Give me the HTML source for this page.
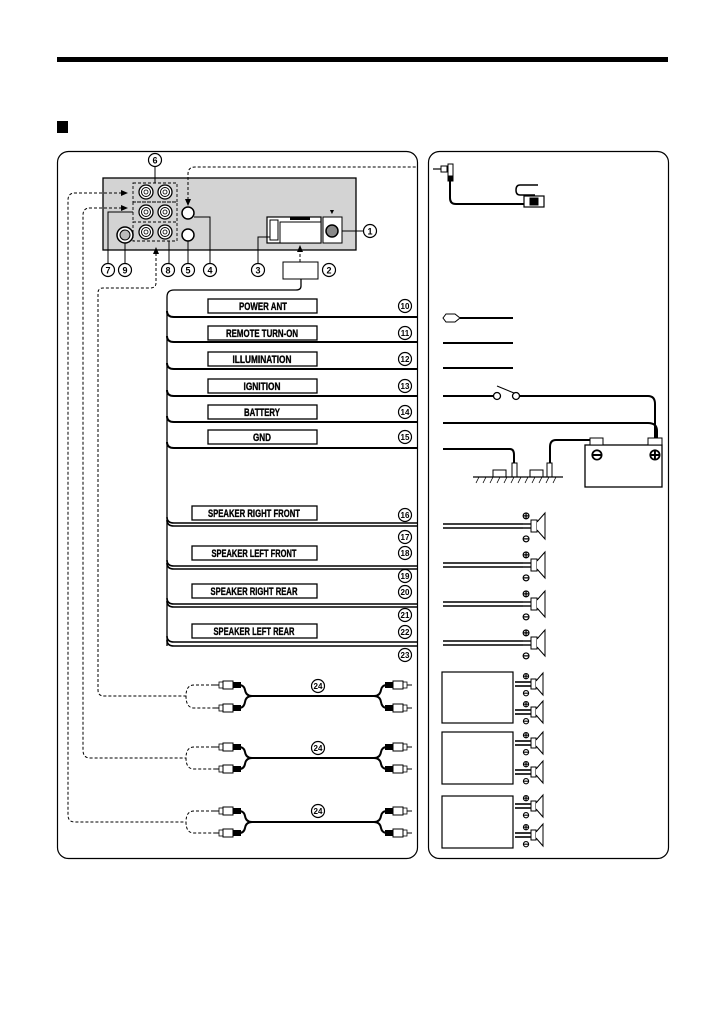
<!DOCTYPE html>
<html><head><meta charset="utf-8"><style>
html,body{margin:0;padding:0;background:#fff;}
svg{display:block;}
text{font-family:"Liberation Sans",sans-serif;font-weight:bold;}
.lbl{font-family:"Liberation Sans",sans-serif;font-weight:bold;stroke:#000;stroke-width:0.35;}
</style></head><body>
<svg width="726" height="1032" viewBox="0 0 726 1032" xmlns="http://www.w3.org/2000/svg">
<defs>
<g id="cn"><circle r="6.5" fill="#fff" stroke="#000" stroke-width="1.2"/></g>
<g id="rca"><circle r="7" fill="#fff" stroke="#000" stroke-width="1.3"/><circle r="4.5" fill="none" stroke="#000" stroke-width="1"/><circle r="2" fill="none" stroke="#000" stroke-width="0.8"/></g>
<g id="plugL"><rect x="0" y="-3" width="4" height="6" fill="#fff" stroke="#000" stroke-width="0.8"/><rect x="4" y="-4" width="10" height="8" fill="#fff" stroke="#000" stroke-width="1"/><rect x="14" y="-3" width="8" height="6" fill="#000"/><line x1="-5" y1="0" x2="0" y2="0" stroke="#000" stroke-width="1"/></g>
<g id="plugR"><rect x="-4" y="-3" width="4" height="6" fill="#fff" stroke="#000" stroke-width="0.8"/><rect x="-14" y="-4" width="10" height="8" fill="#fff" stroke="#000" stroke-width="1"/><rect x="-22" y="-3" width="8" height="6" fill="#000"/><line x1="0" y1="0" x2="5" y2="0" stroke="#000" stroke-width="1"/></g>
<g id="spk"><line x1="-8" y1="-2" x2="0" y2="-2" stroke="#000" stroke-width="1.4"/><line x1="-8" y1="2" x2="0" y2="2" stroke="#000" stroke-width="1.4"/><rect x="0" y="-6" width="6" height="12" fill="#fff" stroke="#000" stroke-width="1"/><polyline points="6,-4 14,-13 14,13 6,4" fill="#fff" stroke="#000" stroke-width="1"/><text x="-5" y="-7" font-size="10" text-anchor="middle" font-weight="normal" font-family="DejaVu Sans">⊕</text><text x="-5" y="16" font-size="10" text-anchor="middle" font-weight="normal" font-family="DejaVu Sans">⊖</text></g>
<g id="spk2"><line x1="-16" y1="-2" x2="0" y2="-2" stroke="#000" stroke-width="1.6"/><line x1="-16" y1="2" x2="0" y2="2" stroke="#000" stroke-width="1.6"/><rect x="0" y="-5" width="5" height="10" fill="#fff" stroke="#000" stroke-width="1"/><polyline points="5,-3 12,-11 12,11 5,3" fill="#fff" stroke="#000" stroke-width="1"/><text x="-5" y="-5" font-size="9" text-anchor="middle" font-weight="normal" font-family="DejaVu Sans">⊕</text><text x="-5" y="12" font-size="9" text-anchor="middle" font-weight="normal" font-family="DejaVu Sans">⊖</text></g>
</defs>

<rect x="57" y="57" width="611" height="5" fill="#000"/>
<rect x="57" y="121" width="11" height="12" fill="#000"/>

<rect x="57.5" y="151.5" width="360" height="707" rx="11" fill="#fff" stroke="#000" stroke-width="1.2"/>
<rect x="428.5" y="151.5" width="240" height="707" rx="11" fill="#fff" stroke="#000" stroke-width="1.2"/>

<rect x="103" y="178" width="253" height="72" fill="#d3d3d3" stroke="#000" stroke-width="1.3"/>
<g fill="none" stroke="#000" stroke-width="0.9" stroke-dasharray="3,2">
<rect x="133" y="183" width="44" height="19"/><rect x="133" y="202" width="44" height="20"/><rect x="133" y="222" width="44" height="19"/>
</g>
<use href="#rca" x="146" y="192"/><use href="#rca" x="165" y="192"/>
<use href="#rca" x="146" y="212"/><use href="#rca" x="165" y="212"/>
<use href="#rca" x="146" y="232"/><use href="#rca" x="165" y="232"/>
<circle cx="188" cy="213" r="6" fill="#fff" stroke="#000" stroke-width="1.5"/>
<circle cx="188" cy="235" r="6" fill="#fff" stroke="#000" stroke-width="1.5"/>
<circle cx="125" cy="235" r="8" fill="#fff" stroke="#000" stroke-width="1.5"/>
<circle cx="125" cy="235" r="5" fill="#bbb" stroke="#000" stroke-width="1"/>
<rect x="267" y="217" width="54" height="26" fill="#fff" stroke="#000" stroke-width="1.2"/>
<rect x="270" y="220" width="8" height="20" fill="#fff" stroke="#000" stroke-width="1"/>
<rect x="280" y="222" width="41" height="21" fill="#fff" stroke="#000" stroke-width="1"/>
<rect x="290" y="217" width="20" height="3" fill="#000"/>
<rect x="323" y="217" width="19" height="26" fill="#fff" stroke="#000" stroke-width="1"/>
<circle cx="332" cy="231" r="6" fill="#888" stroke="#000" stroke-width="1.5"/>
<text x="332" y="214" font-size="7" text-anchor="middle">▼</text>

<g stroke="#000" stroke-width="1" fill="none">
<path d="M342 231 H364"/>
<path d="M194 217 H210 V263"/>
<path d="M188 241 V263"/>
<path d="M169 241 V263"/>
<path d="M270 237 H258 V263"/>
<path d="M133 212 H108 V263"/>
<path d="M125 243 V263"/>
<path d="M155 167 V183"/>
</g>
<g font-size="9" text-anchor="middle">
<use href="#cn" x="370" y="231"/><text x="370" y="234.5">1</text>
<use href="#cn" x="329" y="270"/><text x="329" y="273.5">2</text>
<use href="#cn" x="258" y="270"/><text x="258" y="273.5">3</text>
<use href="#cn" x="210" y="270"/><text x="210" y="273.5">4</text>
<use href="#cn" x="188" y="270"/><text x="188" y="273.5">5</text>
<use href="#cn" x="155" y="160"/><text x="155" y="163.5">6</text>
<use href="#cn" x="108" y="270"/><text x="108" y="273.5">7</text>
<use href="#cn" x="168" y="270"/><text x="168" y="273.5">8</text>
<use href="#cn" x="125" y="270"/><text x="125" y="273.5">9</text>
</g>
<rect x="283" y="262" width="35" height="17" fill="#fff" stroke="#000" stroke-width="1"/>

<g stroke="#000" stroke-width="1" fill="none" stroke-dasharray="3,2">
<path d="M188 205 V174 Q188 167 195 167 H417"/>
<path d="M300 262 V247"/>
<path d="M122 193 H75 Q68 193 68 200 V815 Q68 822 75 822 H186"/>
<path d="M122 208 H90 Q83 208 83 215 V750 Q83 758 90 758 H186"/>
<path d="M156 253 V283 Q156 288 150 288 H103 Q98 288 98 293 V690 Q98 696 104 696 H186"/>
<path d="M214 685 H194 Q186 685 186 696 Q186 708 194 708 H214"/>
<path d="M214 747 H194 Q186 747 186 758 Q186 769 194 769 H214"/>
<path d="M214 811 H194 Q186 811 186 822 Q186 833 194 833 H214"/>
</g>
<g fill="#000">
<polygon points="128,193 121,190 121,196"/>
<polygon points="128,208 121,205 121,211"/>
<polygon points="156,247 153,254 159,254"/>
<polygon points="300,245 297,252 303,252"/>
<polygon points="188,206 185,199 191,199"/>
</g>

<g stroke="#000" stroke-width="1.3" fill="none">
<path d="M301 279 V286 Q301 290 296 290 H174 Q167 290 167 297 V646"/>
<path d="M167 311 Q167 317 174 317 H417" stroke-width="2"/>
<path d="M167 336 Q167 342 174 342 H417" stroke-width="2"/>
<path d="M167 363 Q167 369 174 369 H417" stroke-width="2"/>
<path d="M167 390 Q167 396 174 396 H417" stroke-width="2"/>
<path d="M167 416 Q167 422 174 422 H417" stroke-width="2"/>
<path d="M167 442 Q167 448 174 448 H417" stroke-width="2"/>
<path d="M167 517 Q167 523 174 523 H417" stroke-width="1.6"/><path d="M167 520 Q167 526 174 526 H417" stroke-width="1.6"/>
<path d="M167 560 Q167 566 174 566 H417" stroke-width="1.6"/><path d="M167 563 Q167 569 174 569 H417" stroke-width="1.6"/>
<path d="M167 598 Q167 604 174 604 H417" stroke-width="1.6"/><path d="M167 601 Q167 607 174 607 H417" stroke-width="1.6"/>
<path d="M167 636 Q167 642 174 642 H417" stroke-width="1.6"/><path d="M167 640 Q167 646 174 646 H417" stroke-width="1.6"/>
</g>
<g fill="#fff" stroke="#000" stroke-width="1.3">
<rect x="208" y="299" width="109" height="14"/><rect x="208" y="326" width="109" height="14"/>
<rect x="208" y="352" width="109" height="14"/><rect x="208" y="379" width="109" height="14"/>
<rect x="208" y="405" width="109" height="14"/><rect x="208" y="430" width="109" height="14"/>
<rect x="192" y="506" width="125" height="14"/><rect x="192" y="546" width="125" height="14"/>
<rect x="192" y="584" width="125" height="14"/><rect x="192" y="624" width="125" height="14"/>
</g>
<g font-size="11" text-anchor="middle" class="lbl">
<text class="lbl" x="263" y="310" textLength="48" lengthAdjust="spacingAndGlyphs">POWER ANT</text>
<text class="lbl" x="262" y="337" textLength="72" lengthAdjust="spacingAndGlyphs">REMOTE TURN-ON</text>
<text class="lbl" x="262" y="363" textLength="59" lengthAdjust="spacingAndGlyphs">ILLUMINATION</text>
<text class="lbl" x="262" y="390" textLength="37" lengthAdjust="spacingAndGlyphs">IGNITION</text>
<text class="lbl" x="262" y="416" textLength="36" lengthAdjust="spacingAndGlyphs">BATTERY</text>
<text class="lbl" x="262" y="441" textLength="18" lengthAdjust="spacingAndGlyphs">GND</text>
<text class="lbl" x="254" y="517" textLength="92" lengthAdjust="spacingAndGlyphs">SPEAKER RIGHT FRONT</text>
<text class="lbl" x="254" y="557" textLength="85" lengthAdjust="spacingAndGlyphs">SPEAKER LEFT FRONT</text>
<text class="lbl" x="254" y="595" textLength="87" lengthAdjust="spacingAndGlyphs">SPEAKER RIGHT REAR</text>
<text class="lbl" x="254" y="635" textLength="81" lengthAdjust="spacingAndGlyphs">SPEAKER LEFT REAR</text>
</g>
<g font-size="8" text-anchor="middle">
<use href="#cn" x="405" y="306"/><text x="405" y="309">10</text>
<use href="#cn" x="405" y="333"/><text x="405" y="336">11</text>
<use href="#cn" x="405" y="359"/><text x="405" y="362">12</text>
<use href="#cn" x="405" y="386"/><text x="405" y="389">13</text>
<use href="#cn" x="405" y="412"/><text x="405" y="415">14</text>
<use href="#cn" x="405" y="437"/><text x="405" y="440">15</text>
<use href="#cn" x="405" y="515"/><text x="405" y="518">16</text>
<use href="#cn" x="405" y="537"/><text x="405" y="540">17</text>
<use href="#cn" x="405" y="553"/><text x="405" y="556">18</text>
<use href="#cn" x="405" y="576"/><text x="405" y="579">19</text>
<use href="#cn" x="405" y="592"/><text x="405" y="595">20</text>
<use href="#cn" x="405" y="615"/><text x="405" y="618">21</text>
<use href="#cn" x="405" y="632"/><text x="405" y="635">22</text>
<use href="#cn" x="405" y="655"/><text x="405" y="658">23</text>
</g>

<g stroke="#000" stroke-width="2" fill="none">
<path d="M239 685 Q244 685 245 690 Q246 696 252 696 H374 Q380 696 381 690 Q382 685 387 685"/>
<path d="M239 708 Q244 708 245 702 Q246 696 252 696"/>
<path d="M374 696 Q380 696 381 702 Q382 708 387 708"/>
<path d="M239 747 Q244 747 245 752 Q246 758 252 758 H374 Q380 758 381 752 Q382 747 387 747"/>
<path d="M239 769 Q244 769 245 764 Q246 758 252 758"/>
<path d="M374 758 Q380 758 381 764 Q382 769 387 769"/>
<path d="M239 811 Q244 811 245 816 Q246 822 252 822 H374 Q380 822 381 816 Q382 811 387 811"/>
<path d="M239 833 Q244 833 245 828 Q246 822 252 822"/>
<path d="M374 822 Q380 822 381 828 Q382 833 387 833"/>
</g>
<use href="#plugL" x="219" y="685"/><use href="#plugL" x="219" y="708"/>
<use href="#plugL" x="219" y="747"/><use href="#plugL" x="219" y="769"/>
<use href="#plugL" x="219" y="811"/><use href="#plugL" x="219" y="833"/>
<use href="#plugR" x="407" y="685"/><use href="#plugR" x="407" y="708"/>
<use href="#plugR" x="407" y="747"/><use href="#plugR" x="407" y="769"/>
<use href="#plugR" x="407" y="811"/><use href="#plugR" x="407" y="833"/>
<g font-size="8" text-anchor="middle">
<use href="#cn" x="318" y="686"/><text x="318" y="689">24</text>
<use href="#cn" x="318" y="748"/><text x="318" y="751">24</text>
<use href="#cn" x="318" y="811"/><text x="318" y="814">24</text>
</g>

<g stroke="#000" fill="none">
<path d="M433 169 H441" stroke-width="1.2"/>
<rect x="441" y="166" width="6" height="6" fill="#fff" stroke-width="1"/>
<rect x="448" y="164" width="5" height="14" fill="#fff" stroke-width="1"/>
<rect x="448" y="176" width="5" height="5" fill="#000"/>
<path d="M450 181 V198 Q450 204 456 204 H524" stroke-width="2"/>
<path d="M535 195 H520 Q516 195 516 190 Q516 185 520 185 H538" stroke-width="1.5"/>
<rect x="524" y="196" width="20" height="11" fill="#fff" stroke-width="1.2"/>
<rect x="530" y="198" width="8" height="3" fill="#000"/><rect x="530" y="202" width="8" height="3" fill="#000"/>
<path d="M443 318 L446 314 H455 L460 318 L455 322 H446 Z" stroke-width="1" fill="#fff"/>
<g stroke-width="2">
<path d="M460 318 H513"/>
<path d="M443 343 H513"/>
<path d="M443 368 H513"/>
<path d="M443 396 H494"/>
<path d="M520 396 H648 Q655 396 655 404 V439"/>
<path d="M443 423 H648 Q657 423 657 431 V439"/>
<path d="M443 449 H510 Q514 449 514 455 V475"/>
<path d="M595 440 H556 Q550 440 550 447 V475"/>
</g>
<circle cx="497" cy="396" r="3.5" fill="#fff" stroke-width="1.3"/>
<circle cx="516" cy="396" r="3.5" fill="#fff" stroke-width="1.3"/>
<path d="M497 386 L514 393" stroke-width="1"/>
<rect x="512" y="463" width="5" height="14" fill="#fff" stroke-width="1"/>
<rect x="547" y="463" width="5" height="14" fill="#fff" stroke-width="1"/>
<rect x="493" y="470" width="13" height="7" fill="#fff" stroke-width="1"/>
<rect x="530" y="470" width="13" height="7" fill="#fff" stroke-width="1"/>
<path d="M473 477 H563" stroke-width="1.3"/>
<path d="M476 483 L479 477 M483 483 L486 477 M490 483 L493 477 M497 483 L500 477 M504 483 L507 477 M511 483 L514 477 M518 483 L521 477 M525 483 L528 477 M532 483 L535 477 M539 483 L542 477 M546 483 L549 477 M553 483 L556 477" stroke-width="0.8"/>
<rect x="585" y="445" width="77" height="42" fill="#fff" stroke-width="1.3"/>
<rect x="590" y="438" width="13" height="7" fill="#fff" stroke-width="1"/>
<rect x="648" y="438" width="14" height="7" fill="#fff" stroke-width="1"/>
</g>
<text x="597" y="460" font-size="16" text-anchor="middle" font-weight="normal" font-family="DejaVu Sans">⊖</text>
<text x="655" y="460" font-size="16" text-anchor="middle" font-weight="normal" font-family="DejaVu Sans">⊕</text>

<g stroke="#000" stroke-width="1.4">
<path d="M443 524 H523 M443 528 H523"/>
<path d="M443 563 H523 M443 567 H523"/>
<path d="M443 602 H523 M443 606 H523"/>
<path d="M443 641 H523 M443 645 H523"/>
</g>
<use href="#spk" x="531" y="526"/><use href="#spk" x="531" y="565"/>
<use href="#spk" x="531" y="604"/><use href="#spk" x="531" y="643"/>
<g fill="#fff" stroke="#000" stroke-width="1.2">
<rect x="442" y="672" width="71" height="51"/>
<rect x="442" y="732" width="71" height="52"/>
<rect x="442" y="796" width="71" height="52"/>
</g>
<use href="#spk2" x="531" y="684"/><use href="#spk2" x="531" y="712"/>
<use href="#spk2" x="531" y="743"/><use href="#spk2" x="531" y="772"/>
<use href="#spk2" x="531" y="806"/><use href="#spk2" x="531" y="835"/>
</svg>
</body></html>
